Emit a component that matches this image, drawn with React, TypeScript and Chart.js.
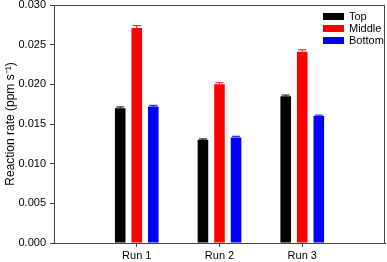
import React, { useEffect, useRef } from "react";
import { Chart, registerables } from "chart.js";

Chart.register(...registerables);

const categories = ["Run 1", "Run 2", "Run 3"];
const seriesNames = ["Top", "Middle", "Bottom"];
const seriesColors = ["#000000", "#ff0000", "#0000ff"];
const topValues = [0.0170, 0.0130, 0.0185];
const middleValues = [0.0271, 0.0200, 0.0241];
const bottomValues = [0.0172, 0.0133, 0.0160];
const topErrors = [0.00015, 0.00012, 0.00015];
const middleErrors = [0.0003, 0.0002, 0.00025];
const bottomErrors = [0.00015, 0.00015, 0.00012];
const yTicks = [0, 0.005, 0.01, 0.015, 0.02, 0.025, 0.03];

const allValues = [topValues, middleValues, bottomValues];
const allErrors = [topErrors, middleErrors, bottomErrors];

const FONT = "'Liberation Sans', Arial, sans-serif";

export default function App() {
  const ref = useRef<HTMLCanvasElement>(null);
  useEffect(() => {
    document.body.style.margin = "0";
    const canvas = ref.current;
    if (!canvas) return;
    const labels = ["", ...categories, ""];
    const datasets = seriesNames.map((name, i) => ({
      label: name,
      data: [null, ...allValues[i], null],
      backgroundColor: seriesColors[i],
      borderWidth: 0,
      categoryPercentage: 0.6,
      barPercentage: 0.64,
    }));

    const errorPlugin = {
      id: "errorbars",
      afterDatasetsDraw(chart: any) {
        const ctx = chart.ctx;
        const y = chart.scales.y;
        ctx.save();
        seriesNames.forEach((_, i) => {
          const meta = chart.getDatasetMeta(i);
          allValues[i].forEach((v, j) => {
            const el = meta.data[j + 1];
            if (!el) return;
            const x = el.x;
            const yTop = y.getPixelForValue(v + allErrors[i][j]);
            const yBase = y.getPixelForValue(v);
            ctx.strokeStyle = seriesColors[i];
            ctx.lineWidth = 1;
            ctx.beginPath();
            ctx.moveTo(x, yBase);
            ctx.lineTo(x, yTop);
            ctx.moveTo(x - 4, yTop);
            ctx.lineTo(x + 4, yTop);
            ctx.stroke();
          });
        });
        ctx.restore();
      },
      afterDraw(chart: any) {
        const ctx = chart.ctx;
        const a = chart.chartArea;
        ctx.save();
        ctx.strokeStyle = "#444";
        ctx.lineWidth = 1;
        ctx.strokeRect(Math.round(a.left) + 0.5, Math.round(a.top) + 0.5, Math.round(a.right - a.left) - 1, Math.round(a.bottom - a.top));
        // legend
        ctx.font = `11px ${FONT}`;
        ctx.textBaseline = "middle";
        ctx.textAlign = "left";
        seriesNames.forEach((name, i) => {
          const cy = 16.5 + i * 12;
          ctx.fillStyle = seriesColors[i];
          ctx.fillRect(323, cy - 3.5, 21, 7);
          ctx.fillStyle = "#000";
          ctx.fillText(name, 349, cy);
        });
        ctx.restore();
      },
    };

    const chart = new Chart(canvas, {
      type: "bar",
      data: { labels, datasets: datasets as any },
      options: {
        animation: false,
        responsive: false,
        layout: { padding: { top: 5, right: 2, left: 0, bottom: 0 } },
        plugins: { legend: { display: false }, tooltip: { enabled: false } },
        scales: {
          x: {
            offset: false,
            grid: {
              display: true,
              offset: false,
              drawOnChartArea: false,
              tickLength: 4,
              tickColor: (c: any) => (c.index === 0 || c.index === 4 ? "rgba(0,0,0,0)" : "#444"),
            },
            border: { display: true, color: "#444" },
            ticks: {
              color: "#000",
              font: { family: FONT, size: 11 },
              padding: 2,
              maxRotation: 0,
              autoSkip: false,
            },
            afterFit: (s: any) => {
              s.height = 19;
              s.paddingLeft = 0;
              s.paddingRight = 0;
            },
          },
          y: {
            min: 0,
            max: 0.03,
            afterBuildTicks: (s: any) => {
              s.ticks = yTicks.map((v) => ({ value: v }));
            },
            grid: { display: true, drawOnChartArea: false, tickLength: 4, tickColor: "#444" },
            border: { display: true, color: "#444" },
            ticks: {
              color: "#000",
              font: { family: FONT, size: 11 },
              padding: 4,
              callback: (v: any) => Number(v).toFixed(3),
            },
            title: {
              display: true,
              text: "Reaction rate (ppm s⁻¹)",
              color: "#000",
              font: { family: FONT, size: 12 },
              padding: { top: 3, bottom: 2 },
            },
            afterFit: (s: any) => {
              s.width = 54;
              s.paddingTop = 0;
              s.paddingBottom = 0;
            },
          },
        },
      },
      plugins: [errorPlugin],
    });
    return () => chart.destroy();
  }, []);
  return <canvas ref={ref} width={387} height={262} style={{ display: "block" }} />;
}
